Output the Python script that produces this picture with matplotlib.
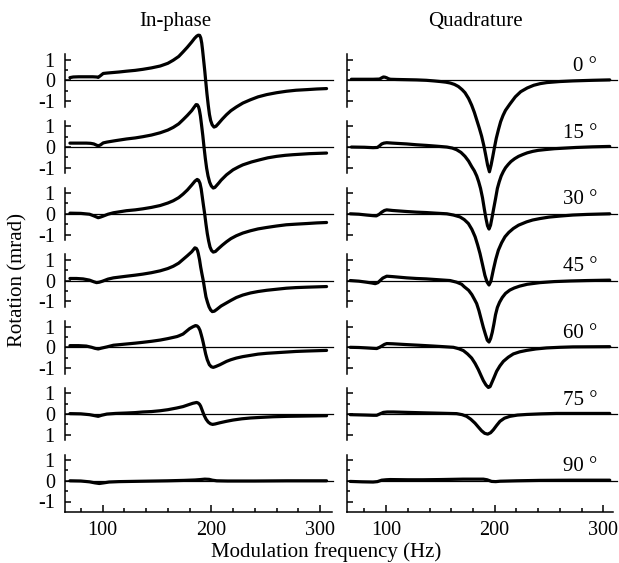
import matplotlib
matplotlib.use('Agg')
import matplotlib.pyplot as plt

plt.rcParams['font.family'] = ['Liberation Serif', 'DejaVu Serif']

angles = [0, 15, 30, 45, 60, 75, 90]
col_titles = ['In-phase', 'Quadrature']
xlabel = 'Modulation frequency (Hz)'
ylabel = 'Rotation (mrad)'
ytick_vals = [-1, 0, 1]
ytick_labels = ['-1', '0', '1']
ytick_labels_75 = ['1', '0', '1']
xtick_major = [100, 200, 300]
xtick_minor = [80, 120, 140, 160, 180, 220, 240, 260, 280]

# ---- In-phase curves (frequency Hz, rotation mrad) ----
ip0_f = [70, 73, 78, 85, 91, 94.5, 96, 98, 100.6, 104, 115, 122, 130, 137, 145, 153, 160, 165, 170, 174, 178, 182, 184.5, 186.5, 188, 189.3, 190.3, 191.2, 192, 193, 194, 194.8, 196, 197.2, 198.3, 199.4, 200.8, 202.5, 204.3, 206.4, 210, 214, 218, 223, 229, 236, 243, 251, 260, 269, 278, 288, 297, 306]
ip0_v = [0.13, 0.16, 0.17, 0.17, 0.17, 0.16, 0.14, 0.22, 0.33, 0.35, 0.40, 0.44, 0.48, 0.53, 0.60, 0.69, 0.82, 0.97, 1.15, 1.37, 1.60, 1.85, 2.02, 2.13, 2.18, 2.17, 2.05, 1.80, 1.45, 0.95, 0.45, 0.0, -0.65, -1.21, -1.65, -1.94, -2.15, -2.26, -2.22, -2.10, -1.88, -1.66, -1.47, -1.29, -1.10, -0.94, -0.80, -0.69, -0.60, -0.53, -0.48, -0.45, -0.42, -0.40]

ip15_f = [70, 78, 85, 89, 92, 94.5, 96, 98, 100.6, 104, 112, 122, 130, 137, 145, 153, 160, 165, 170, 174, 178, 182, 184.3, 186, 187.2, 188.2, 189, 190, 191, 192.2, 193.3, 194.5, 195.7, 197, 198.5, 200, 201.8, 203.3, 205, 207, 209, 214, 220, 225, 229, 237, 245, 252, 260, 268, 275, 290, 306]
ip15_v = [0.19, 0.19, 0.19, 0.18, 0.15, 0.09, 0.06, 0.10, 0.20, 0.24, 0.31, 0.39, 0.44, 0.50, 0.58, 0.69, 0.82, 0.95, 1.12, 1.32, 1.53, 1.76, 1.93, 2.05, 2.04, 1.95, 1.80, 1.50, 1.08, 0.55, 0.0, -0.55, -1.02, -1.40, -1.70, -1.88, -1.98, -1.95, -1.85, -1.73, -1.60, -1.34, -1.10, -0.96, -0.86, -0.72, -0.61, -0.52, -0.45, -0.40, -0.37, -0.32, -0.29]

ip30_f = [70, 80, 88, 92, 96, 98, 100.6, 105, 110, 116, 122, 130, 137, 145, 153, 160, 165, 170, 174, 178, 182, 185, 187, 188.3, 189.6, 190.7, 191.7, 192.8, 193.9, 195.1, 196.3, 197.5, 198.8, 200.2, 201.8, 203.8, 206.4, 210, 214, 218, 223, 229, 236, 243, 251, 260, 269, 278, 288, 297, 306]
ip30_v = [0.03, 0.02, -0.02, -0.10, -0.19, -0.16, -0.11, -0.02, 0.05, 0.10, 0.15, 0.19, 0.24, 0.31, 0.40, 0.52, 0.63, 0.78, 0.95, 1.15, 1.39, 1.58, 1.66, 1.62, 1.47, 1.20, 0.82, 0.40, 0.0, -0.50, -0.95, -1.30, -1.60, -1.77, -1.85, -1.82, -1.69, -1.52, -1.35, -1.20, -1.06, -0.93, -0.82, -0.73, -0.66, -0.59, -0.53, -0.50, -0.47, -0.44, -0.42]

ip45_f = [70, 76, 82, 88, 92, 94.5, 97, 100, 105, 110, 116, 122, 130, 137, 145, 153, 160, 165, 170, 174, 178, 182, 184.9, 186.3, 187.3, 188, 189.2, 190.2, 191.4, 192.6, 193.9, 195.1, 196.5, 197.9, 199.4, 200.9, 202.8, 204.9, 209, 214, 218, 223, 229, 236, 243, 251, 260, 269, 278, 288, 306]
ip45_v = [0.10, 0.10, 0.08, 0.02, -0.06, -0.10, -0.08, -0.03, 0.07, 0.13, 0.17, 0.21, 0.26, 0.31, 0.38, 0.47, 0.58, 0.69, 0.84, 1.02, 1.20, 1.39, 1.58, 1.55, 1.45, 1.31, 1.00, 0.66, 0.32, 0.0, -0.42, -0.79, -1.05, -1.27, -1.42, -1.50, -1.48, -1.40, -1.23, -1.08, -0.96, -0.82, -0.70, -0.60, -0.53, -0.47, -0.42, -0.37, -0.34, -0.32, -0.29]

ip60_f = [70, 78, 85, 90, 93, 96, 99, 104, 110, 116, 122, 130, 137, 145, 153, 160, 166, 168.5, 170.5, 174, 177, 180, 183, 185.5, 187, 188.3, 189.6, 190.8, 191.8, 192.6, 193.7, 194.8, 196.3, 198.2, 200, 201.8, 204, 208, 214, 218, 223, 229, 236, 243, 251, 260, 269, 278, 288, 306]
ip60_v = [0.08, 0.08, 0.06, 0.0, -0.05, -0.08, -0.04, 0.02, 0.10, 0.13, 0.16, 0.20, 0.24, 0.29, 0.35, 0.42, 0.49, 0.52, 0.56, 0.64, 0.77, 0.90, 0.99, 1.05, 1.03, 0.96, 0.82, 0.60, 0.40, 0.22, -0.05, -0.32, -0.60, -0.84, -0.94, -0.97, -0.93, -0.84, -0.68, -0.60, -0.52, -0.45, -0.39, -0.33, -0.29, -0.26, -0.23, -0.20, -0.18, -0.15]

ip75_f = [70, 80, 88, 93, 96, 99, 104, 112, 122, 130, 137, 145, 153, 160, 168, 174, 179, 183, 186.5, 188, 189.2, 190.2, 191.5, 193.3, 195.2, 197.2, 199.2, 201.2, 203.5, 208, 214, 220, 228, 236, 246, 257, 270, 282, 306]
ip75_v = [0.02, 0.01, -0.03, -0.08, -0.11, -0.06, 0.0, 0.03, 0.05, 0.07, 0.10, 0.12, 0.16, 0.21, 0.29, 0.36, 0.45, 0.52, 0.56, 0.53, 0.47, 0.38, 0.20, -0.05, -0.25, -0.39, -0.47, -0.50, -0.48, -0.42, -0.35, -0.29, -0.23, -0.19, -0.16, -0.13, -0.11, -0.10, -0.08]

ip90_f = [70, 80, 88, 93, 97, 101, 106, 115, 137, 160, 175, 185, 190, 194, 198, 201, 205, 215, 240, 270, 306]
ip90_v = [0.0, -0.01, -0.05, -0.10, -0.13, -0.10, -0.06, -0.04, -0.02, 0.0, 0.02, 0.04, 0.06, 0.08, 0.07, 0.03, 0.0, -0.01, -0.01, 0.0, 0.0]

# ---- Quadrature curves ----
q0_f = [68, 80, 88, 94, 96, 97.5, 99, 100.6, 102, 104, 110, 119, 128, 137, 144, 150, 155, 159, 163, 166.6, 170, 172.7, 176, 178.8, 181.3, 183.4, 185.8, 188, 190, 191.7, 193.5, 195.2, 196.7, 198.2, 199.8, 201.5, 203.5, 205.5, 207.7, 210, 214, 219, 224, 230, 236, 242, 248, 260, 272, 290, 306]
q0_v = [0.05, 0.05, 0.05, 0.06, 0.12, 0.16, 0.15, 0.12, 0.08, 0.05, 0.04, 0.03, 0.02, 0.0, -0.03, -0.06, -0.09, -0.13, -0.20, -0.30, -0.45, -0.60, -0.88, -1.20, -1.55, -1.90, -2.30, -2.70, -3.15, -3.60, -4.10, -4.42, -4.10, -3.70, -3.25, -2.80, -2.38, -2.00, -1.70, -1.45, -1.15, -0.80, -0.55, -0.37, -0.24, -0.16, -0.11, -0.06, -0.03, 0.0, 0.02]

q15_f = [68, 80, 88, 92, 94, 96, 98, 100.6, 106, 119, 128, 137, 147, 156, 161, 165, 169, 172.7, 176, 178.8, 181.3, 183.5, 185.3, 187, 188.8, 190.5, 192, 193.4, 194.8, 196.2, 197.6, 199, 200.8, 202.5, 204.2, 206, 208, 210, 212.5, 215, 218.5, 222, 226, 230, 235, 240, 247, 255, 265, 275, 290, 306]
q15_v = [0.0, -0.01, -0.03, -0.02, 0.06, 0.15, 0.19, 0.21, 0.19, 0.15, 0.11, 0.08, 0.04, 0.0, -0.05, -0.13, -0.26, -0.45, -0.68, -0.94, -1.15, -1.40, -1.68, -2.00, -2.45, -3.00, -3.45, -3.80, -3.96, -3.78, -3.40, -3.00, -2.50, -2.00, -1.68, -1.40, -1.18, -1.00, -0.84, -0.70, -0.56, -0.45, -0.36, -0.28, -0.21, -0.16, -0.12, -0.08, -0.05, -0.02, 0.01, 0.03]

q30_f = [67, 75, 82, 88, 91, 93.5, 96, 98.5, 100.6, 106, 119, 128, 137, 146, 156, 162, 168, 172, 175.8, 179, 182, 184.3, 186.5, 188.8, 191, 193, 194.8, 196.6, 198.8, 201, 203.4, 206.4, 209.5, 213, 217.2, 222, 229.4, 235, 241.7, 250, 260, 272, 285, 306]
q30_v = [0.0, -0.02, -0.06, -0.09, -0.10, -0.03, 0.08, 0.16, 0.19, 0.16, 0.11, 0.08, 0.06, 0.03, 0.0, -0.06, -0.15, -0.28, -0.47, -0.75, -1.11, -1.50, -1.92, -2.45, -2.97, -3.30, -3.44, -3.25, -2.70, -2.20, -1.76, -1.40, -1.11, -0.90, -0.71, -0.55, -0.39, -0.30, -0.23, -0.16, -0.11, -0.06, -0.03, 0.0]

q45_f = [67, 75, 82, 87, 90, 92.5, 94.5, 97, 100.6, 106, 119, 128, 137, 148, 159, 165, 169.6, 172, 176, 179, 181.5, 183.4, 185.5, 187.5, 189.5, 191.5, 193.2, 194.8, 196.3, 197.8, 199.3, 200.8, 202.5, 204.5, 207, 210, 214, 218, 223, 230, 241.7, 255, 270, 285, 306]
q45_v = [0.0, -0.03, -0.08, -0.12, -0.15, -0.10, 0.0, 0.12, 0.21, 0.19, 0.13, 0.10, 0.08, 0.04, 0.0, -0.08, -0.18, -0.30, -0.47, -0.68, -0.92, -1.11, -1.45, -1.85, -2.25, -2.60, -2.88, -2.97, -2.80, -2.50, -2.10, -1.65, -1.30, -1.05, -0.82, -0.62, -0.46, -0.36, -0.27, -0.18, -0.10, -0.05, -0.02, 0.0, 0.02]

q60_f = [67, 75, 82, 88, 91.4, 94, 96, 98.5, 100.6, 106, 119, 130, 143.6, 153, 162, 167, 171.2, 175, 178.8, 182, 185, 187.4, 189.6, 192, 194.2, 195.8, 197.2, 199.5, 201.8, 204.8, 208, 212.5, 217.2, 223, 229.4, 238, 247.9, 260, 272, 306]
q60_v = [0.0, -0.01, -0.03, -0.05, -0.06, 0.0, 0.06, 0.14, 0.18, 0.17, 0.13, 0.10, 0.06, 0.03, 0.0, -0.07, -0.16, -0.32, -0.52, -0.78, -1.08, -1.36, -1.61, -1.82, -1.94, -1.90, -1.73, -1.45, -1.16, -0.90, -0.68, -0.48, -0.32, -0.22, -0.15, -0.08, -0.03, 0.0, 0.02, 0.03]

q75_f = [67, 75, 82, 88, 91.4, 94, 97.5, 101, 106.7, 120, 134, 150, 165, 170, 174.2, 178, 181.9, 185, 188, 190.8, 193.6, 196.3, 198.8, 201.8, 204.9, 209, 214.1, 221, 229.4, 243, 257, 306]
q75_v = [-0.03, -0.04, -0.05, -0.06, -0.06, 0.0, 0.08, 0.10, 0.10, 0.08, 0.06, 0.04, 0.02, -0.03, -0.11, -0.25, -0.44, -0.63, -0.81, -0.93, -0.97, -0.90, -0.76, -0.55, -0.35, -0.20, -0.11, -0.05, -0.02, 0.01, 0.03, 0.03]

q90_f = [67, 78, 88, 92, 96, 100, 103.7, 120, 134, 150, 171, 182, 189.6, 193, 197.2, 201, 205, 220, 241.7, 270, 306]
q90_v = [-0.03, -0.05, -0.06, -0.04, 0.03, 0.05, 0.06, 0.05, 0.05, 0.06, 0.08, 0.08, 0.08, 0.05, -0.03, -0.04, -0.02, 0.0, 0.02, 0.03, 0.03]

inphase = [(ip0_f, ip0_v), (ip15_f, ip15_v), (ip30_f, ip30_v), (ip45_f, ip45_v),
           (ip60_f, ip60_v), (ip75_f, ip75_v), (ip90_f, ip90_v)]
quad = [(q0_f, q0_v), (q15_f, q15_v), (q30_f, q30_v), (q45_f, q45_v),
        (q60_f, q60_v), (q75_f, q75_v), (q90_f, q90_v)]

# ---- layout (pixels) ----
W, H = 619, 563
fig = plt.figure(figsize=(W / 100, H / 100), dpi=100)
unit = 20.7          # px per mrad
row_step = 66.75
zero0 = 80.3
half = row_step / 2
cols = [dict(px0=64.5, px1=332.0, f0=65.0, f1=311.0, zx=1.005),
        dict(px0=347.0, px1=613.0, f0=64.0, f1=309.0, zx=1.015)]
FS = 15

for r in range(7):
    z = zero0 + r * row_step
    top = z - half
    bot = z + half if r < 6 else 511.7
    for c in range(2):
        cd = cols[c]
        ax = fig.add_axes([cd['px0'] / W, 1 - bot / H, (cd['px1'] - cd['px0']) / W, (bot - top) / H])
        ax.patch.set_visible(False)
        ax.set_xlim(cd['f0'], cd['f1'])
        ylo = -(bot - z) / unit
        ax.set_ylim(ylo, half / unit)
        for s in ['top', 'right']:
            ax.spines[s].set_visible(False)
        ax.spines['left'].set_linewidth(1.1)
        ax.axhline(0, color='black', lw=0.9, xmin=0, xmax=cd['zx'], clip_on=False, zorder=1)
        f, v = (inphase if c == 0 else quad)[r]
        ax.plot(f, v, color='black', lw=2.3, clip_on=False, solid_joinstyle='round',
                solid_capstyle='round', zorder=3)
        ax.set_yticks(ytick_vals)
        ax.set_yticks([-0.5, 0.5], minor=True)
        if c == 0:
            ax.set_yticklabels(ytick_labels_75 if r == 5 else ytick_labels)
        else:
            ax.set_yticklabels([])
        ax.tick_params(axis='y', which='major', direction='in', length=4.5, width=1.1,
                       labelsize=14.5, pad=7)
        ax.tick_params(axis='y', which='minor', direction='in', length=2.5, width=1.1)
        if r < 6:
            ax.spines['left'].set_bounds(-1.27, 1.27)
            ax.spines['bottom'].set_visible(False)
            ax.set_xticks([])
        else:
            ax.spines['left'].set_bounds(ylo, 1.24)
            ax.spines['bottom'].set_linewidth(1.1)
            ax.set_xticks(xtick_major)
            ax.set_xticks(xtick_minor, minor=True)
            ax.tick_params(axis='x', which='major', direction='in', length=5, width=1.1,
                           labelsize=14.5, pad=7)
            ax.tick_params(axis='x', which='minor', direction='in', length=3, width=1.1)
        if c == 1:
            ax.text(0.94, 0.45, f'{angles[r]} °', transform=ax.get_yaxis_transform(),
                    ha='right', va='baseline', fontsize=FS)

fig.text(175 / W, 1 - 26 / H, col_titles[0], ha='center', va='baseline', fontsize=FS)
fig.text(475 / W, 1 - 26 / H, col_titles[1], ha='center', va='baseline', fontsize=FS)
fig.text(326 / W, 1 - 557 / H, xlabel, ha='center', va='baseline', fontsize=FS)
fig.text(17.5 / W, 1 - 280 / H, ylabel, rotation=90, ha='center', va='center', fontsize=FS)

fig.savefig('out.png', dpi=100)
